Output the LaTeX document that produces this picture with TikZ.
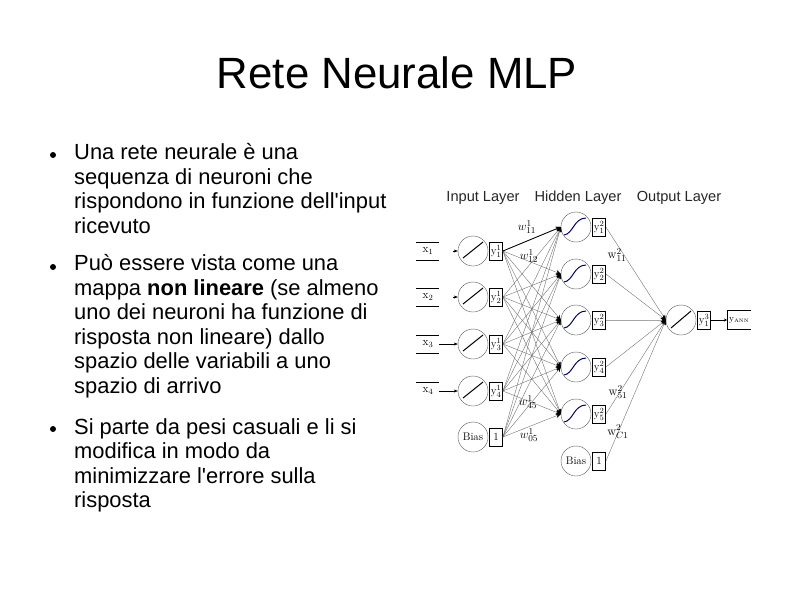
\documentclass[tikz,border=0pt]{standalone}
\usepackage{fontspec}
\newfontfamily\slidefont{Liberation Sans}
\usepackage{amsmath}
\usepackage{tikz}
\usetikzlibrary{arrows.meta,positioning,calc}

\tikzset{
    neuron/.style={circle, draw=black!65, thin, minimum size=30pt, inner sep=0pt, font=\fontsize{11}{11}\selectfont},
    outbox/.style={draw=black, line width=0.7pt, minimum width=13pt, minimum height=18pt, inner sep=0pt, font=\fontsize{11}{11}\selectfont},
    weight/.style={black!60, line width=0.35pt, -{Stealth[length=5pt,width=4.5pt,black]}},
    wlabel/.style={inner sep=0pt, font=\fontsize{12.5}{12.5}\selectfont},
    xlabel/.style={inner sep=0pt, font=\fontsize{11.5}{11.5}\selectfont},
    layername/.style={inner sep=0pt, text=black!85, font=\slidefont\fontsize{14.6}{14.6}\selectfont},
    para/.style={anchor=north west, inner sep=0pt, align=left, font=\slidefont\fontsize{21.9}{24.5}\selectfont},
    dotitem/.style={circle, fill=black, inner sep=0pt, minimum size=6pt},
}

\begin{document}
\begin{tikzpicture}[x=1pt,y=-1pt]
    \useasboundingbox (0,0) rectangle (794,595);

    % Title
    \node[inner sep=0pt, font=\slidefont\fontsize{43.8}{43.8}\selectfont] (title) at (397,73) {Rete Neurale MLP};

    % Bullet list
    \node[dotitem] (dot1) at (53,155) {};
    \node[dotitem] (dot2) at (53,267) {};
    \node[dotitem] (dot3) at (53,429) {};
    \node[para] (item1) at (74,143.5) {Una rete neurale è una\\sequenza di neuroni che\\rispondono in funzione dell'input\\ricevuto};
    \node[para] (item2) at (74,254.5) {Può essere vista come una\\mappa \textbf{non lineare} (se almeno\\uno dei neuroni ha funzione di\\risposta non lineare) dallo\\spazio delle variabili a uno\\spazio di arrivo};
    \node[para] (item3) at (74,418) {Si parte da pesi casuali e li si\\modifica in modo da\\minimizzare l'errore sulla\\risposta};

    % Layer names
    \node[layername] (lay1) at (483,198) {Input Layer};
    \node[layername] (lay2) at (578,198) {Hidden Layer};
    \node[layername] (lay3) at (679,198) {Output Layer};

    % Input layer
    \foreach \i/\yy in {1/251,2/297,3/344,4/391} {
        \node[neuron] (in\i) at (473,\yy) {};
        \node[outbox, right=1pt of in\i] (iny\i) {$\mathrm{y}^{1}_{\i}$};
        \node[xlabel] (x\i) at (428,\yy) {$\mathrm{x}_{\i}$};
        \draw[thin] (416,\yy-9) -- (439,\yy-9);
        \draw[black, line width=1pt, shift={(in\i)}] (-10,7) -- (10,-9);
    }
    \foreach \i in {1,2,3} {
        \path (x\i) ++(-12,9) coordinate (xl\i) ++(23,0) coordinate (xr\i);
        \draw[thin] (xl\i) -- (xr\i);
    }
    \coordinate (xa1) at (453,251);
    \coordinate (xa2) at (453,297);
    \coordinate (xa3) at (439,344);
    \coordinate (xa4) at (439,391);
    \foreach \i in {1,...,4} {
        \draw[-{Stealth[length=4pt,width=3pt]}, thin] (xa\i) -- (in\i.west);
    }
    \node[neuron] (in5) at (473,437) {Bias};
    \node[outbox, right=1pt of in5] (iny5) {1};

    % Hidden layer
    \foreach \j/\yy in {1/227,2/274,3/320,4/367,5/414} {
        \node[neuron] (hid\j) at (576,\yy) {};
        \node[outbox, right=1pt of hid\j] (hidy\j) {$\mathrm{y}^{2}_{\j}$};
        \draw[blue!40!black, line width=1pt, shift={(hid\j)}] (-12,8) .. controls (-3,7) and (-2,-9) .. (10,-9);
    }
    \node[neuron] (hid6) at (576,461) {Bias};
    \node[outbox, right=1pt of hid6] (hidy6) {1};

    % Output layer
    \node[neuron] (out1) at (681,320) {};
    \node[outbox, right=1pt of out1] (outy1) {$\mathrm{y}^{3}_{1}$};
    \draw[black, line width=1pt, shift={(out1)}] (-10,8) -- (10,-9);
    \node[inner sep=0pt, minimum width=24pt, minimum height=18pt, anchor=west, font=\fontsize{9}{9}\selectfont] (result) at (727,320) {$\mathrm{y}_{\scriptscriptstyle\mathrm{ANN}}$};
    \draw[line width=0.7pt] (result.north east) -- (result.north west) -- (result.south west) -- (result.south east);
    \draw[-{Stealth[length=3pt,width=3pt]}, line width=0.7pt] (outy1) -- (result);

    % Weights input to hidden
    \foreach \i in {1,...,5} {
        \foreach \j in {1,...,5} {
            \draw[weight] (iny\i.east) -- (hid\j.west);
        }
    }
    \draw[-{Stealth[length=5pt,width=4.5pt]}, line width=0.8pt] (iny1.east) -- (hid1.west);

    % Weights hidden to output
    \foreach \j in {1,2,4,5,6} {
        \draw[weight] (hidy\j.east) -- (out1.west);
    }
    \draw[black!35, line width=1pt, -{Stealth[length=5pt,width=4.5pt,black]}] (hidy3.east) -- (out1.west);

    % Weight labels
    \node[wlabel] (w1) at (527,227) {$w^{1}_{11}$};
    \node[wlabel] (w2) at (529,256) {$w^{1}_{12}$};
    \node[wlabel] (w3) at (528,402) {$w^{1}_{45}$};
    \node[wlabel] (w4) at (529,435) {$w^{1}_{05}$};
    \node[wlabel] (w5) at (617,255) {$\mathrm{w}^{2}_{11}$};
    \node[wlabel] (w6) at (618,392) {$\mathrm{w}^{2}_{51}$};
    \node[wlabel] (w7) at (618,432) {$\mathrm{w}^{2}_{C1}$};
\end{tikzpicture}
\end{document}
